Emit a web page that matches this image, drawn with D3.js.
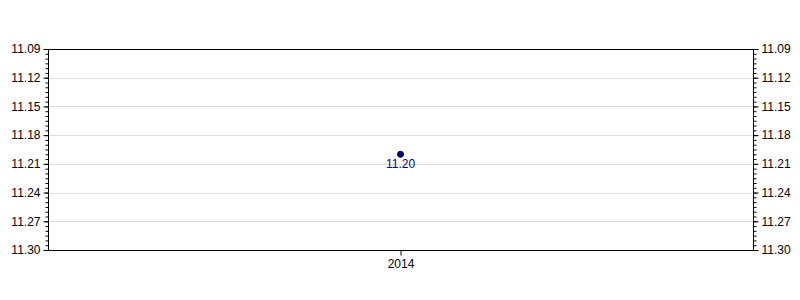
<!DOCTYPE html>
<html>
<head>
<meta charset="utf-8">
<script src="https://cdn.jsdelivr.net/npm/d3@7"></script>
<style>
  body { margin: 0; background: #fff; }
  text { font-family: "Liberation Sans", Arial, sans-serif; font-size: 12px; }
</style>
</head>
<body>
<svg id="chart" width="800" height="300"></svg>
<script>
// data
const years = ["2014"];
const values = [11.20];
const valueLabels = ["11.20"];
const yTicks = [11.09, 11.12, 11.15, 11.18, 11.21, 11.24, 11.27, 11.30];

const margin = { top: 49, right: 47, bottom: 50, left: 48 };
const width = 800, height = 300;

const svg = d3.select("#chart");

const x = d3.scalePoint()
	.domain(years)
	.range([margin.left, width - margin.right])
	.padding(0.5);

// inverted axis: small values at top
const y = d3.scaleLinear()
	.domain([11.09, 11.30])
	.range([margin.top, height - margin.bottom]);

// minor ticks every 0.005
const minor = d3.range(0, 43).map(i => +(11.09 + i * 0.005).toFixed(3));

// grid
svg.append("g")
	.selectAll("line")
	.data(yTicks.slice(1, -1))
	.enter()
	.append("line")
	.attr("x1", margin.left)
	.attr("x2", width - margin.right)
	.attr("y1", d => Math.round(y(d)) + 0.5)
	.attr("y2", d => Math.round(y(d)) + 0.5)
	.style("stroke", "#dcdcdc");

// left axis
const left = svg.append("g")
	.attr("transform", "translate(" + (margin.left + 0.5) + ",0)");
left.call(d3.axisLeft(y).tickValues(minor).tickSize(3).tickFormat(""));
left.append("g").call(d3.axisLeft(y).tickValues(yTicks).tickSize(5).tickPadding(3).tickFormat(d3.format(".2f")));
left.selectAll(".domain").remove();

// right axis
const right = svg.append("g")
	.attr("transform", "translate(" + (width - margin.right + 0.5) + ",0)");
right.call(d3.axisRight(y).tickValues(minor).tickSize(3).tickFormat(""));
right.append("g").call(d3.axisRight(y).tickValues(yTicks).tickSize(5).tickPadding(3).tickFormat(d3.format(".2f")));
right.selectAll(".domain").remove();

// bottom axis
const bottom = svg.append("g")
	.attr("transform", "translate(0," + (height - margin.bottom + 0.5) + ")")
	.call(d3.axisBottom(x).tickSize(5).tickPadding(4));
bottom.selectAll(".domain").remove();

svg.selectAll(".tick text")
	.style("fill", "#000")
	.style("font-size", "12px")
	.style("font-family", "'Liberation Sans', Arial, sans-serif");
svg.selectAll(".tick line").style("stroke", "#000");

// frame
svg.append("rect")
	.attr("x", margin.left + 0.5)
	.attr("y", margin.top + 0.5)
	.attr("width", width - margin.left - margin.right)
	.attr("height", height - margin.top - margin.bottom)
	.style("fill", "none")
	.style("stroke", "#000");

// points
const data = years.map((yr, i) => ({ year: yr, value: values[i], label: valueLabels[i] }));
svg.append("g")
	.selectAll("circle")
	.data(data)
	.enter()
	.append("circle")
	.attr("cx", d => x(d.year))
	.attr("cy", d => y(d.value))
	.attr("r", 3)
	.style("fill", "#000099")
	.style("stroke", "#000");

svg.append("g")
	.selectAll("text")
	.data(data)
	.enter()
	.append("text")
	.attr("x", d => x(d.year))
	.attr("y", d => y(d.value) + 14)
	.attr("text-anchor", "middle")
	.style("fill", "#000099")
	.text(d => d.label);
</script>
</body>
</html>
